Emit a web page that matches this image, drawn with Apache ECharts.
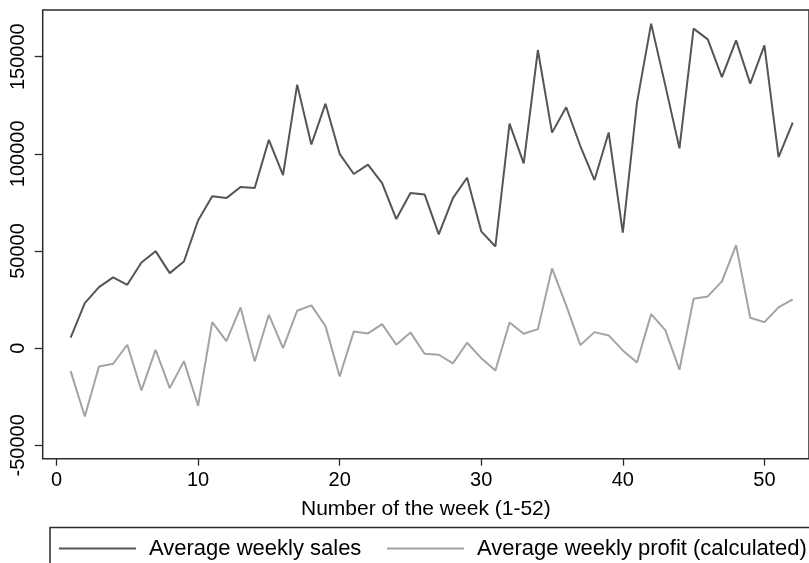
<!DOCTYPE html>
<html>
<head>
<meta charset="utf-8">
<script src="https://cdn.jsdelivr.net/npm/echarts@6/dist/echarts.min.js"></script>
<style>
html,body{margin:0;padding:0;background:#fff;}
#chart{width:809px;height:563px;}
</style>
</head>
<body>
<div id="chart"></div>
<script>
const weeks = [1,2,3,4,5,6,7,8,9,10,11,12,13,14,15,16,17,18,19,20,21,22,23,24,25,26,27,28,29,30,31,32,33,34,35,36,37,38,39,40,41,42,43,44,45,46,47,48,49,50,51,52];
const sales = [5350,23160,31400,36400,32600,44100,49900,38600,44600,65700,78200,77200,82900,82400,107200,89000,135600,104800,125800,100000,89600,94400,84900,66400,79800,79100,58500,77200,87700,60100,52300,115500,95100,153400,110900,123900,104000,86500,111000,59400,126300,167000,135200,102800,164400,158900,139500,158400,136100,155800,98300,116000];
const profit = [-11840,-35150,-9420,-8030,1750,-21770,-820,-20590,-6690,-29650,13380,3600,20950,-6850,17190,0,19250,21980,11320,-14570,8600,7570,12350,1750,8080,-2880,-3400,-7870,2780,-5150,-11480,13230,7410,9780,41020,21980,1540,8240,6540,-1180,-7360,17500,9270,-11120,25430,26610,34330,53010,15650,13380,20950,25070];
const xTicks = [0,10,20,30,40,50];
const yTicks = [-50000,0,50000,100000,150000];
const seriesNames = ['Average weekly sales','Average weekly profit (calculated)'];
const xTitle = 'Number of the week (1-52)';

const font = '"Liberation Sans", Arial, Helvetica, sans-serif';
const chart = echarts.init(document.getElementById('chart'), null, {renderer:'canvas'});
const legendCommon = {
  orient:'horizontal', top:537, padding:0, itemWidth:77, itemHeight:2, icon:'rect',
  textStyle:{fontFamily:font, fontSize:22, color:'#000', lineHeight:23, padding:[0,0,0,8]},
  selectedMode:false
};
chart.setOption({
  animation:false,
  backgroundColor:'#fff',
  grid:{left:42.7, top:10, right:-12, bottom:104.3, show:true, borderColor:'#2b2b2b', borderWidth:1.5, backgroundColor:'transparent'},
  legend:[
    Object.assign({left:59, data:[seriesNames[0]]}, legendCommon),
    Object.assign({left:387, data:[seriesNames[1]]}, legendCommon)
  ],
  xAxis:{
    type:'value', min:-0.974, max:53.15,
    axisLine:{show:false, onZero:false},
    splitLine:{show:false},
    axisTick:{show:true, length:7, customValues:xTicks, lineStyle:{color:'#2b2b2b', width:1.3}},
    axisLabel:{customValues:xTicks, fontFamily:font, fontSize:20, color:'#000', margin:12},
    name:xTitle, nameLocation:'middle', nameGap:40,
    nameTextStyle:{fontFamily:font, fontSize:21, color:'#000'}
  },
  yAxis:{
    type:'value', min:-56900, max:174000,
    axisLine:{show:false, onZero:false},
    splitLine:{show:false},
    axisTick:{show:true, length:8, customValues:yTicks, lineStyle:{color:'#2b2b2b', width:1.3}},
    axisLabel:{customValues:yTicks, rotate:90, fontFamily:font, fontSize:20, color:'#000', margin:14,
      formatter:(v)=>String(v)}
  },
  graphic:[{
    type:'rect', silent:true,
    shape:{x:50, y:527.5, width:800, height:80},
    style:{fill:'none', stroke:'#2b2b2b', lineWidth:1.5}
  }],
  series:[
    {name:seriesNames[0], type:'line', data:weeks.map((w,i)=>[w,sales[i]]), symbol:'none', lineStyle:{color:'#555555', width:2}, itemStyle:{color:'#555555'}},
    {name:seriesNames[1], type:'line', data:weeks.map((w,i)=>[w,profit[i]]), symbol:'none', lineStyle:{color:'#a3a3a3', width:2}, itemStyle:{color:'#a3a3a3'}}
  ]
});
</script>
</body>
</html>
